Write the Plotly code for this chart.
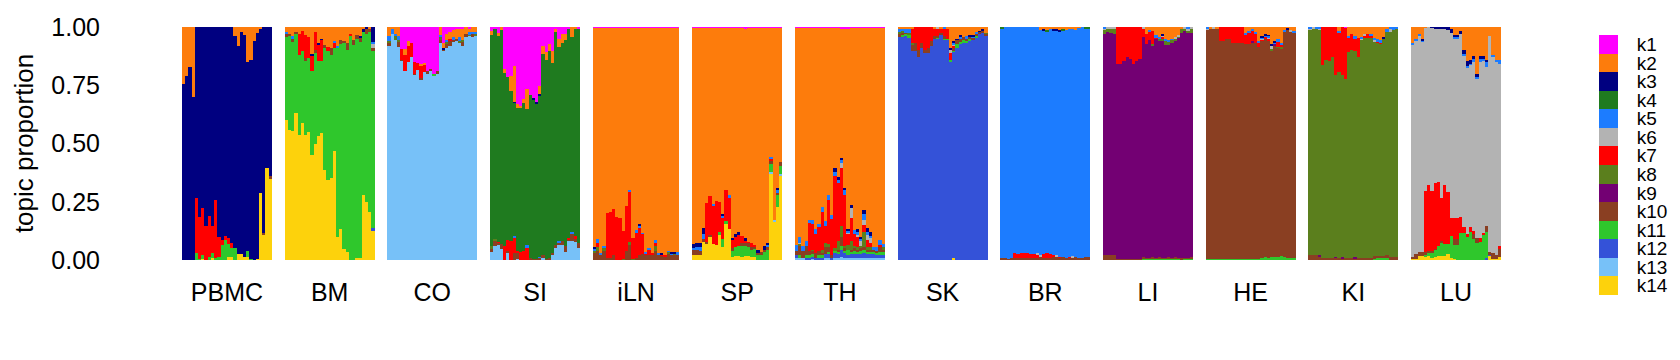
import sys
import plotly.graph_objects as go

TOPICS = ["k1", "k2", "k3", "k4", "k5", "k6", "k7", "k8", "k9", "k10", "k11", "k12", "k13", "k14"]
COLORS = ["#FF00FF", "#FD7C0C", "#000080", "#1F7B1F", "#1C7CFF", "#B3B3B3", "#FF0000",
          "#5B7F1D", "#730073", "#8A3F22", "#2FC72C", "#3452D8", "#77C1F8", "#FDD20C"]
TISSUES = ["PBMC", "BM", "CO", "SI", "iLN", "SP", "TH", "SK", "BR", "LI", "HE", "KI", "LU"]
N_SAMPLES = [28, 28, 28, 28, 27, 28, 28, 28, 28, 28, 28, 28, 28]
DOMINANT = {"PBMC": "k3", "BM": "k11", "CO": "k13", "SI": "k4", "iLN": "k2", "SP": "k2",
            "TH": "k2", "SK": "k12", "BR": "k5", "LI": "k9", "HE": "k10", "KI": "k8", "LU": "k6"}
GAP = 4


def sparse(n, items):
    out = [0.0] * n
    for i, v in items.items():
        out[i] = v
    return out


PBMC = {
    "k2": [0.245, 0.21, 0.17, 0.30, 0, 0, 0, 0, 0, 0, 0, 0, 0, 0, 0, 0, 0.04, 0.08, 0.02, 0.035, 0.15, 0.14, 0.06, 0.025, 0.005, 0, 0, 0],
    "k7": [0, 0, 0, 0, 0.235, 0.178, 0.202, 0.148, 0.173, 0.118, 0.246, 0.085, 0.02, 0.018, 0.024, 0.021, 0, 0, 0, 0, 0, 0, 0, 0, 0, 0, 0, 0],
    "k10": sparse(28, {25: 0.011, 27: 0.011}),
    "k11": [0, 0, 0, 0, 0.03, 0.005, 0.015, 0, 0.015, 0.02, 0.01, 0.015, 0.064, 0.087, 0.058, 0.041, 0.052, 0, 0, 0, 0.028, 0.004, 0, 0, 0, 0, 0, 0],
    "k14": [0, 0, 0, 0, 0, 0, 0.005, 0, 0, 0.01, 0, 0, 0, 0, 0.011, 0.011, 0, 0.026, 0.026, 0.011, 0.011, 0, 0, 0.005, 0.288, 0.107, 0.395, 0.348],
}

BM = {
    "k2": [0.02, 0.03, 0.04, 0.02, 0.03, 0.015, 0.035, 0.045, 0.115, 0.02, 0.07, 0.05, 0.078, 0.085, 0.09, 0.062, 0.08, 0.057, 0.06, 0.068, 0.03, 0.057, 0.035, 0.04, 0.005, 0, 0.008, 0],
    "k3": sparse(28, {8: 0.007, 10: 0.005, 11: 0.005, 23: 0.005, 24: 0.015, 25: 0.008, 27: 0.065}),
    "k5": sparse(28, {0: 0.01, 2: 0.01, 15: 0.006, 16: 0.006, 27: 0.005}),
    "k6": sparse(28, {27: 0.02}),
    "k7": [0, 0, 0, 0, 0.09, 0.09, 0.1, 0.09, 0.067, 0.08, 0.07, 0.09, 0, 0.02, 0, 0.02, 0, 0, 0, 0, 0.01, 0, 0, 0, 0, 0, 0, 0],
    "k10": [0.015, 0.01, 0.015, 0.012, 0, 0, 0.008, 0, 0, 0.008, 0, 0, 0.012, 0, 0.03, 0, 0, 0.015, 0.01, 0.03, 0, 0.02, 0.015, 0.02, 0, 0.02, 0.015, 0.015],
    "k12": sparse(28, {27: 0.012}),
    "k14": [0.603, 0.559, 0.554, 0.632, 0.537, 0.587, 0.537, 0.549, 0.451, 0.499, 0.531, 0.544, 0.387, 0.344, 0.354, 0.467, 0.097, 0.132, 0.047, 0.033, 0, 0, 0.01, 0.01, 0.279, 0.248, 0.205, 0.125],
}

CO = {
    "k1": [0, 0, 0, 0, 0.095, 0.095, 0.06, 0.067, 0.15, 0.153, 0.157, 0.153, 0.19, 0.18, 0.2, 0.19, 0, 0.07, 0.03, 0.02, 0.015, 0.005, 0.01, 0.01, 0, 0.005, 0, 0],
    "k2": [0.04, 0.01, 0.03, 0.04, 0, 0.025, 0.02, 0, 0, 0, 0.01, 0.012, 0, 0, 0, 0, 0.035, 0.02, 0.025, 0.03, 0.03, 0.045, 0.035, 0.045, 0.03, 0.018, 0.02, 0.02],
    "k3": sparse(28, {17: 0.005}),
    "k5": [0.02, 0.02, 0.01, 0.015, 0, 0, 0, 0, 0, 0, 0, 0, 0, 0, 0, 0, 0.01, 0, 0.01, 0, 0.01, 0, 0.015, 0, 0, 0.01, 0.01, 0.01],
    "k7": [0, 0, 0, 0, 0.045, 0.07, 0.07, 0.06, 0.05, 0.03, 0.05, 0.03, 0, 0, 0, 0, 0, 0, 0, 0.012, 0, 0, 0, 0, 0, 0, 0, 0],
    "k8": [0.01, 0, 0.015, 0.01, 0, 0, 0, 0, 0, 0, 0, 0, 0, 0, 0, 0, 0.01, 0, 0.01, 0, 0, 0, 0.01, 0.01, 0, 0.005, 0, 0.005],
    "k10": [0.01, 0, 0, 0.02, 0.005, 0, 0, 0, 0.005, 0, 0.01, 0, 0.01, 0.01, 0, 0.01, 0.015, 0.01, 0.015, 0.018, 0.01, 0.008, 0, 0.015, 0.012, 0, 0.015, 0],
    "k11": sparse(28, {14: 0.008}),
}

SI = {
    "k1": [0.018, 0.01, 0.025, 0, 0.18, 0.215, 0.21, 0.168, 0.33, 0.337, 0.31, 0.267, 0.29, 0.305, 0.32, 0.254, 0.082, 0.108, 0.072, 0.105, 0.01, 0.053, 0.03, 0.03, 0.005, 0, 0, 0.01],
    "k2": [0.015, 0, 0.015, 0.015, 0.018, 0, 0.065, 0.152, 0.018, 0.008, 0.018, 0.086, 0, 0, 0, 0.033, 0.033, 0.033, 0.033, 0.05, 0.011, 0.033, 0.04, 0.025, 0, 0.043, 0.01, 0],
    "k3": sparse(28, {7: 0.005, 13: 0.006, 14: 0.007, 15: 0.01}),
    "k5": sparse(28, {7: 0.01, 11: 0.008, 15: 0.005, 21: 0.007, 25: 0.008}),
    "k7": [0, 0, 0.005, 0, 0.06, 0.047, 0.08, 0.065, 0.01, 0.033, 0.04, 0.055, 0, 0, 0, 0, 0, 0, 0, 0, 0, 0, 0, 0, 0.005, 0, 0.01, 0],
    "k8": sparse(28, {0: 0.01, 1: 0.01}),
    "k10": [0.015, 0.02, 0.01, 0.02, 0, 0.005, 0, 0.03, 0.025, 0, 0, 0, 0.01, 0.005, 0.005, 0.01, 0.01, 0.005, 0.01, 0.01, 0.01, 0.012, 0.018, 0.025, 0.01, 0.03, 0.015, 0.025],
    "k13": [0.033, 0.062, 0.064, 0.047, 0, 0.033, 0, 0, 0.005, 0, 0, 0, 0, 0, 0, 0, 0.01, 0, 0, 0.02, 0.053, 0.064, 0.064, 0.033, 0.08, 0.083, 0.076, 0.05],
}

ILN = {
    "k1": [0.003, 0.003, 0.003, 0.003, 0.003, 0.003, 0.003, 0.003, 0.003, 0.003, 0.003, 0.003, 0.003, 0.003, 0.003, 0.003, 0.003, 0.003, 0.003, 0.003, 0.003, 0.003, 0.003, 0.003, 0.003, 0.003, 0.003],
    "k3": [0.005, 0, 0, 0, 0, 0, 0, 0, 0, 0, 0, 0, 0, 0, 0.008, 0, 0, 0, 0, 0, 0, 0.004, 0, 0, 0.003, 0.005, 0],
    "k5": [0.01, 0.015, 0.01, 0.01, 0, 0, 0, 0, 0, 0, 0, 0.005, 0, 0.008, 0.01, 0.005, 0.005, 0.01, 0, 0.01, 0.01, 0, 0, 0.005, 0.01, 0, 0.008],
    "k7": [0, 0.02, 0, 0, 0.19, 0.195, 0.2, 0.186, 0.182, 0.12, 0.19, 0.218, 0.088, 0.11, 0.118, 0.088, 0.01, 0.022, 0.01, 0.015, 0, 0.005, 0.005, 0, 0, 0, 0],
    "k8": [0.01, 0.015, 0, 0.01, 0, 0, 0, 0, 0, 0.006, 0, 0.012, 0.005, 0, 0, 0, 0, 0, 0, 0.02, 0, 0, 0, 0.01, 0, 0.01, 0],
    "k10": [0.03, 0.04, 0.02, 0.04, 0.01, 0.01, 0.02, 0, 0, 0, 0.04, 0.065, 0, 0.01, 0.02, 0.025, 0.02, 0.02, 0.02, 0.04, 0.02, 0.02, 0.015, 0.025, 0.02, 0.02, 0.025],
}

SP = {
    "k1": [0.003, 0.003, 0.003, 0.003, 0.003, 0.003, 0.003, 0.003, 0.004, 0.004, 0.003, 0.003, 0.003, 0.003, 0.004, 0.004, 0.005, 0.004, 0.003, 0.003, 0.003, 0.003, 0.003, 0.003, 0.003, 0.003, 0.003, 0.003],
    "k3": [0.02, 0.018, 0.02, 0.025, 0, 0, 0, 0, 0, 0.01, 0, 0, 0.008, 0.014, 0.011, 0, 0.008, 0, 0, 0, 0.01, 0, 0.014, 0.01, 0, 0, 0.011, 0],
    "k5": [0.005, 0.01, 0.015, 0.02, 0, 0, 0.005, 0, 0, 0.005, 0, 0.008, 0, 0, 0, 0, 0, 0, 0, 0, 0, 0, 0, 0.005, 0.01, 0, 0.01, 0],
    "k7": [0, 0, 0, 0, 0.168, 0.168, 0.165, 0.19, 0.125, 0.093, 0.133, 0.136, 0.036, 0.043, 0.05, 0.033, 0.014, 0.005, 0.017, 0.005, 0, 0, 0, 0, 0.005, 0, 0, 0],
    "k10": [0.025, 0.025, 0.02, 0.015, 0.008, 0.01, 0, 0, 0, 0, 0, 0, 0.01, 0, 0, 0.008, 0.01, 0.02, 0.008, 0.011, 0.01, 0.014, 0.008, 0.015, 0.014, 0, 0.01, 0.02],
    "k11": [0, 0, 0, 0, 0, 0, 0, 0, 0.015, 0.036, 0.014, 0, 0.029, 0.036, 0.04, 0.053, 0.043, 0.036, 0.036, 0.036, 0.021, 0.021, 0.036, 0.043, 0.036, 0, 0.053, 0.033],
    "k13": sparse(28, {24: 0.007, 25: 0.007, 27: 0.007}),
    "k14": [0.02, 0.02, 0.02, 0.076, 0.069, 0.097, 0.069, 0.064, 0.107, 0.054, 0.155, 0.133, 0.011, 0.018, 0.018, 0.011, 0.018, 0.018, 0.011, 0.011, 0, 0, 0, 0, 0.37, 0.165, 0.226, 0.362],
}

TH = {
    "k1": [0.003, 0.003, 0.003, 0.003, 0.003, 0.003, 0.003, 0.003, 0.003, 0.003, 0.003, 0.004, 0.004, 0.004, 0.005, 0.005, 0.005, 0.004, 0.004, 0.003, 0.003, 0.003, 0.003, 0.003, 0.003, 0.003, 0.003, 0.003],
    "k3": [0, 0, 0, 0, 0, 0, 0, 0, 0, 0, 0, 0, 0.017, 0.014, 0.01, 0.011, 0.005, 0.014, 0, 0.008, 0.01, 0.02, 0.018, 0.014, 0, 0, 0, 0],
    "k5": [0.025, 0.025, 0.02, 0.02, 0.01, 0.015, 0.02, 0.014, 0.024, 0.023, 0.018, 0.02, 0.017, 0.011, 0.008, 0.02, 0.01, 0, 0.02, 0.015, 0.01, 0.023, 0.01, 0.01, 0.01, 0.015, 0.02, 0.015],
    "k6": [0, 0.005, 0, 0, 0, 0, 0, 0, 0, 0, 0, 0, 0, 0, 0.025, 0, 0.005, 0.043, 0, 0.01, 0.02, 0.024, 0.024, 0.02, 0, 0, 0, 0],
    "k7": [0, 0, 0, 0, 0.12, 0.11, 0.083, 0.1, 0.16, 0.074, 0.19, 0.155, 0.31, 0.25, 0.25, 0.22, 0.047, 0.1, 0.05, 0.043, 0, 0.03, 0.03, 0.02, 0, 0, 0.01, 0],
    "k8": [0, 0.01, 0, 0, 0, 0.005, 0, 0, 0.014, 0.017, 0.014, 0, 0.01, 0.036, 0.047, 0.01, 0.02, 0.036, 0.01, 0.01, 0.01, 0.064, 0.01, 0.01, 0, 0, 0, 0.01],
    "k10": [0.02, 0.04, 0.03, 0.04, 0.02, 0.015, 0.02, 0.02, 0.01, 0.03, 0.02, 0.01, 0, 0.01, 0.036, 0.01, 0, 0.01, 0.01, 0.01, 0.01, 0.01, 0.01, 0.01, 0.01, 0.01, 0.02, 0.01],
    "k11": [0, 0.01, 0, 0.01, 0.01, 0.01, 0, 0.01, 0.01, 0, 0.01, 0, 0.01, 0.01, 0.02, 0.01, 0.025, 0.01, 0.015, 0.01, 0.015, 0.015, 0.01, 0.01, 0.01, 0.01, 0.015, 0.015],
    "k12": [0.01, 0, 0, 0.01, 0.01, 0.01, 0.01, 0.01, 0.01, 0.015, 0.015, 0.01, 0.02, 0.015, 0.03, 0.02, 0.01, 0.015, 0.015, 0.015, 0.015, 0.02, 0.015, 0.015, 0.015, 0.01, 0.01, 0.01],
    "k13": [0.01, 0.01, 0.01, 0, 0, 0.005, 0, 0, 0, 0.01, 0.01, 0, 0.01, 0.01, 0.012, 0.01, 0.01, 0.01, 0.01, 0.01, 0.01, 0.01, 0.01, 0.01, 0.01, 0.01, 0.01, 0.01],
}

SK = {
    "k2": [0.01, 0.005, 0.01, 0.01, 0.005, 0, 0, 0, 0, 0, 0, 0.005, 0, 0.005, 0, 0.01, 0.09, 0.058, 0.05, 0.035, 0.042, 0.04, 0.035, 0.035, 0.02, 0.015, 0.01, 0.025],
    "k3": sparse(28, {16: 0.006, 17: 0.01, 18: 0.005, 19: 0.006, 22: 0.005, 23: 0.006, 25: 0.005, 26: 0.004}),
    "k5": [0.01, 0.01, 0.015, 0.015, 0, 0, 0, 0, 0, 0, 0, 0, 0, 0, 0.005, 0, 0, 0.005, 0, 0.01, 0, 0.01, 0, 0.005, 0.01, 0, 0, 0],
    "k6": sparse(28, {12: 0.005, 16: 0.014, 17: 0.008}),
    "k7": [0, 0, 0, 0, 0.065, 0.07, 0.1, 0.07, 0.1, 0.09, 0.062, 0.035, 0.035, 0.02, 0.035, 0.04, 0.033, 0.01, 0, 0, 0, 0, 0, 0, 0, 0, 0, 0],
    "k8": sparse(28, {0: 0.01, 1: 0.01, 3: 0.01, 4: 0.005, 27: 0.005}),
    "k10": [0.015, 0.01, 0.005, 0, 0.03, 0.035, 0.03, 0.02, 0.008, 0.02, 0.02, 0.012, 0.005, 0.008, 0.008, 0, 0, 0.01, 0.02, 0.015, 0.015, 0.01, 0.012, 0.01, 0.01, 0.01, 0.01, 0.01],
    "k11": [0, 0.005, 0.01, 0.008, 0, 0, 0, 0, 0, 0, 0, 0, 0.005, 0, 0.005, 0.005, 0.005, 0.005, 0.015, 0.005, 0.01, 0.005, 0.005, 0, 0.005, 0, 0, 0],
    "k14": sparse(28, {17: 0.008}),
}

BR = {
    "k2": [0, 0, 0, 0, 0, 0, 0, 0, 0, 0, 0, 0, 0.014, 0.01, 0.014, 0.007, 0.01, 0.01, 0.014, 0.01, 0.014, 0.007, 0.01, 0.014, 0.004, 0, 0, 0],
    "k3": sparse(28, {13: 0.004, 16: 0.004, 17: 0.004, 18: 0.004}),
    "k4": sparse(28, {0: 0.005, 14: 0.004, 19: 0.004, 26: 0.006, 27: 0.006}),
    "k6": sparse(28, {11: 0.006, 12: 0.006, 17: 0.005, 22: 0.005}),
    "k7": [0, 0, 0, 0, 0.018, 0.016, 0.02, 0.02, 0.024, 0.018, 0.018, 0.015, 0, 0.015, 0.018, 0.018, 0.005, 0, 0.005, 0, 0, 0.005, 0, 0, 0, 0, 0, 0],
    "k10": [0.01, 0.01, 0.005, 0.01, 0.01, 0.01, 0.008, 0.008, 0.008, 0.008, 0.008, 0.01, 0.015, 0.01, 0.01, 0.008, 0.015, 0.015, 0.01, 0.012, 0.01, 0.01, 0.012, 0.015, 0.01, 0.01, 0.012, 0.012],
}

LI = {
    "k2": [0, 0, 0, 0, 0, 0, 0, 0, 0, 0, 0, 0, 0, 0.028, 0.014, 0.018, 0.036, 0.043, 0.03, 0.053, 0.057, 0.05, 0.043, 0.036, 0.007, 0, 0, 0],
    "k3": sparse(28, {18: 0.006}),
    "k5": [0.005, 0, 0, 0, 0, 0, 0, 0, 0, 0, 0, 0, 0, 0, 0.004, 0, 0.007, 0.007, 0, 0.005, 0.005, 0.005, 0, 0, 0, 0, 0.005, 0],
    "k6": [0.007, 0.007, 0.006, 0.007, 0, 0, 0, 0, 0, 0, 0, 0, 0.007, 0, 0, 0, 0, 0, 0.006, 0, 0, 0, 0.005, 0.005, 0, 0.005, 0.01, 0.01],
    "k7": [0, 0, 0, 0, 0.158, 0.158, 0.146, 0.13, 0.136, 0.158, 0.147, 0.136, 0.036, 0.043, 0.039, 0.057, 0.01, 0, 0.008, 0, 0, 0, 0, 0, 0, 0, 0, 0],
    "k8": [0.018, 0.015, 0.02, 0.022, 0, 0, 0, 0, 0, 0, 0, 0, 0, 0, 0, 0.004, 0, 0.011, 0.011, 0.018, 0.014, 0.015, 0.014, 0.006, 0.017, 0.014, 0.01, 0.014],
    "k10": [0.02, 0.02, 0.02, 0.02, 0.004, 0.004, 0.004, 0.004, 0.004, 0.006, 0.004, 0.004, 0.004, 0.004, 0.004, 0.004, 0.004, 0.004, 0.004, 0.004, 0.004, 0.004, 0.004, 0.004, 0.006, 0.004, 0.004, 0.006],
    "k11": [0, 0, 0, 0, 0, 0, 0, 0, 0, 0, 0, 0, 0.008, 0.005, 0.005, 0.008, 0.005, 0.008, 0.006, 0.006, 0.008, 0.006, 0.008, 0.006, 0.004, 0.006, 0.005, 0.005],
}

HE = {
    "k2": [0, 0.005, 0, 0.005, 0, 0, 0, 0, 0, 0, 0, 0, 0.024, 0.018, 0.01, 0.02, 0.06, 0.038, 0.029, 0.033, 0.072, 0.061, 0.053, 0.07, 0.014, 0.004, 0.014, 0.018],
    "k3": sparse(28, {17: 0.005, 18: 0.007, 19: 0.005, 20: 0.007, 21: 0.005, 25: 0.008}),
    "k5": [0.005, 0, 0, 0, 0, 0, 0, 0, 0, 0, 0, 0, 0.008, 0.006, 0.005, 0.006, 0.006, 0.007, 0.005, 0.005, 0, 0.006, 0.008, 0.006, 0.005, 0, 0, 0.006],
    "k6": [0.005, 0, 0.005, 0, 0, 0, 0, 0, 0, 0, 0, 0, 0, 0, 0, 0, 0, 0.005, 0, 0.005, 0.014, 0, 0, 0, 0, 0, 0.005, 0],
    "k7": [0, 0, 0, 0, 0.06, 0.06, 0.053, 0.053, 0.067, 0.07, 0.067, 0.067, 0.043, 0.05, 0.047, 0.043, 0.018, 0.005, 0.012, 0.01, 0, 0, 0.024, 0.011, 0, 0, 0, 0],
    "k8": sparse(28, {20: 0.01, 22: 0.005, 23: 0.005}),
    "k9": sparse(28, {14: 0.005, 21: 0.006}),
    "k11": [0.003, 0.003, 0.003, 0.003, 0.003, 0.003, 0.003, 0.003, 0.003, 0.003, 0.003, 0.003, 0.004, 0.004, 0.005, 0.006, 0.006, 0.008, 0.012, 0.01, 0.012, 0.012, 0.012, 0.017, 0.012, 0.01, 0.008, 0.01],
}

KI = {
    "k1": sparse(28, {11: 0.004}),
    "k2": [0, 0, 0, 0, 0, 0, 0, 0, 0, 0.018, 0, 0, 0.04, 0.03, 0.04, 0.048, 0.043, 0.029, 0.029, 0.03, 0.047, 0.053, 0.057, 0.045, 0.01, 0, 0, 0],
    "k3": sparse(28, {23: 0.005}),
    "k5": [0.008, 0, 0.008, 0.005, 0, 0, 0, 0, 0, 0.004, 0, 0, 0.003, 0, 0.008, 0, 0.007, 0, 0, 0.005, 0.005, 0.008, 0.01, 0, 0.008, 0.01, 0.014, 0.01],
    "k6": [0.004, 0.005, 0, 0.004, 0, 0, 0, 0, 0, 0, 0, 0, 0, 0, 0, 0, 0.003, 0.008, 0, 0, 0.014, 0, 0, 0, 0, 0.01, 0, 0],
    "k7": [0, 0, 0, 0, 0.162, 0.143, 0.147, 0.129, 0.208, 0.17, 0.208, 0.22, 0.065, 0.067, 0.057, 0.081, 0, 0.012, 0.018, 0.013, 0, 0.006, 0.005, 0, 0, 0, 0, 0],
    "k9": sparse(28, {3: 0.006, 8: 0.005, 10: 0.004, 14: 0.004}),
    "k10": [0.02, 0.02, 0.02, 0.015, 0.008, 0.008, 0.01, 0.008, 0.01, 0.008, 0.008, 0.01, 0.008, 0.008, 0.008, 0.01, 0.008, 0.008, 0.01, 0.008, 0.008, 0.01, 0.01, 0.01, 0.012, 0.012, 0.015, 0.015],
    "k11": sparse(28, {20: 0.008, 21: 0.008, 22: 0.008, 23: 0.008, 24: 0.008}),
}

LU = {
    "k2": [0.067, 0.053, 0.029, 0.05, 0.004, 0, 0, 0, 0, 0, 0, 0, 0.01, 0.033, 0.036, 0.018, 0.1, 0.148, 0.14, 0.125, 0.2, 0.125, 0.125, 0.143, 0.038, 0.12, 0.14, 0.14],
    "k3": [0, 0, 0, 0.006, 0, 0, 0.004, 0.005, 0.006, 0.01, 0.01, 0.014, 0.014, 0.01, 0.005, 0.01, 0.018, 0.02, 0.018, 0.014, 0.014, 0.014, 0.014, 0.007, 0, 0, 0, 0],
    "k5": [0.008, 0.007, 0.007, 0.007, 0, 0, 0, 0, 0, 0, 0, 0, 0, 0.007, 0.008, 0, 0.005, 0.005, 0.005, 0.008, 0.007, 0.008, 0.005, 0.02, 0, 0.01, 0.012, 0.018],
    "k7": [0, 0, 0, 0, 0.26, 0.28, 0.26, 0.28, 0.278, 0.186, 0.255, 0.222, 0.077, 0.09, 0.09, 0.066, 0.026, 0.011, 0.021, 0.014, 0, 0.014, 0.01, 0, 0, 0, 0, 0.011],
    "k10": [0.01, 0.02, 0.015, 0.017, 0.014, 0.008, 0.005, 0.005, 0, 0.01, 0, 0, 0, 0.024, 0.024, 0, 0, 0, 0, 0.023, 0.019, 0, 0, 0.028, 0.01, 0.024, 0.018, 0.036],
    "k11": [0, 0, 0, 0, 0.01, 0.014, 0.025, 0.033, 0.04, 0.054, 0.05, 0.043, 0.095, 0.06, 0.065, 0.117, 0.117, 0.1, 0.122, 0.089, 0.075, 0.079, 0.107, 0.11, 0, 0, 0, 0],
    "k12": sparse(28, {23: 0.01, 24: 0.005}),
    "k14": [0.003, 0.005, 0.018, 0.018, 0.011, 0.018, 0.007, 0.011, 0.018, 0.018, 0.018, 0.026, 0.007, 0.005, 0, 0, 0, 0, 0, 0, 0, 0, 0, 0, 0.018, 0.005, 0.005, 0.011],
}

PANELS = {"PBMC": PBMC, "BM": BM, "CO": CO, "SI": SI, "iLN": ILN, "SP": SP, "TH": TH,
          "SK": SK, "BR": BR, "LI": LI, "HE": HE, "KI": KI, "LU": LU}

# ---- assemble stacked proportions ----
X = []
Y = {k: [] for k in TOPICS}
tick_vals = []
start = 0
for tissue, n in zip(TISSUES, N_SAMPLES):
    panel = PANELS[tissue]
    cols = {}
    for k in TOPICS:
        lst = panel.get(k, [0.0] * n)
        if len(lst) != n:
            print(f"length mismatch {tissue} {k}: {len(lst)}", file=sys.stderr)
        cols[k] = (list(lst) + [0.0] * n)[:n]
    dom = DOMINANT[tissue]
    for i in range(n):
        others = sum(cols[k][i] for k in TOPICS if k != dom)
        cols[dom][i] = max(0.0, 1.0 - others)
    for i in range(n):
        X.append(start + i)
        for k in TOPICS:
            Y[k].append(cols[k][i])
    tick_vals.append(start + (n - 1) / 2)
    start += n + GAP
total_units = start - GAP

FONT = "Liberation Sans, Arial, Helvetica, sans-serif"
OFF = 8                      # page body margin of the html page
W, H = 1680 - OFF, 360 - OFF


def px_x(p):                 # window px -> paper fraction
    return (p - OFF) / W


def px_y(p):
    return 1 - (p - OFF) / H


px_left_bar, px_right_bar = 182, 1501
dom_left, dom_right = 106, 1577
unit = (px_right_bar - px_left_bar) / total_units
x_range = [-0.5 - (px_left_bar - dom_left) / unit,
           total_units - 0.5 + (dom_right - px_right_bar) / unit]

fig = go.Figure()
for k in reversed(TOPICS):
    c = COLORS[TOPICS.index(k)]
    fig.add_trace(go.Bar(x=X, y=Y[k], name=k, width=1.0, marker=dict(color=c, line=dict(width=0)),
                         showlegend=False, hovertemplate=k + ": %{y:.3f}<extra></extra>"))

# legend as a one-column heatmap of topic colours
n_t = len(TOPICS)
cscale = []
for i, c in enumerate(COLORS):
    cscale.append([i / n_t, c])
    cscale.append([(i + 1) / n_t, c])
fig.add_trace(go.Heatmap(z=[[i] for i in range(n_t)], x=[0], y=TOPICS, colorscale=cscale,
                         zmin=-0.5, zmax=n_t - 0.5, showscale=False, xaxis="x2", yaxis="y2",
                         hoverinfo="skip"))

fig.update_layout(
    template="none",
    width=W, height=H, margin=dict(l=0, r=0, t=0, b=0, pad=0, autoexpand=False),
    paper_bgcolor="white", plot_bgcolor="white",
    barmode="stack", bargap=0,
    font=dict(family=FONT, color="black"),
    xaxis=dict(domain=[px_x(dom_left), px_x(dom_right)], range=x_range, automargin=False,
               tickmode="array", tickvals=tick_vals, ticktext=TISSUES,
               tickfont=dict(size=25, color="black"), ticks="outside", ticklen=10,
               tickcolor="rgba(0,0,0,0)", showgrid=False, zeroline=False, showline=False,
               fixedrange=True),
    yaxis=dict(domain=[px_y(260), px_y(27)], range=[0, 1], automargin=False,
               tickmode="array", tickvals=[0, 0.25, 0.5, 0.75, 1.0],
               ticktext=["0.00", "0.25", "0.50", "0.75", "1.00"],
               tickfont=dict(size=25, color="black"), ticks="outside", ticklen=0,
               tickcolor="rgba(0,0,0,0)", showgrid=False, zeroline=False, showline=False,
               title=dict(text="topic proportion", font=dict(size=26, color="black"), standoff=10),
               fixedrange=True),
    xaxis2=dict(domain=[px_x(1599), px_x(1618)], anchor="y2", range=[-0.5, 0.5], visible=False,
                automargin=False, fixedrange=True),
    yaxis2=dict(domain=[px_y(295), px_y(35)], anchor="x2", side="right", type="category",
                autorange="reversed", tickmode="array", tickvals=TOPICS, ticktext=TOPICS,
                tickfont=dict(size=19, color="black"), ticks="outside", automargin=False,
                ticklen=14, tickcolor="rgba(0,0,0,0)", showgrid=False, zeroline=False,
                showline=False, fixedrange=True),
)

fig.write_html("out.html")
